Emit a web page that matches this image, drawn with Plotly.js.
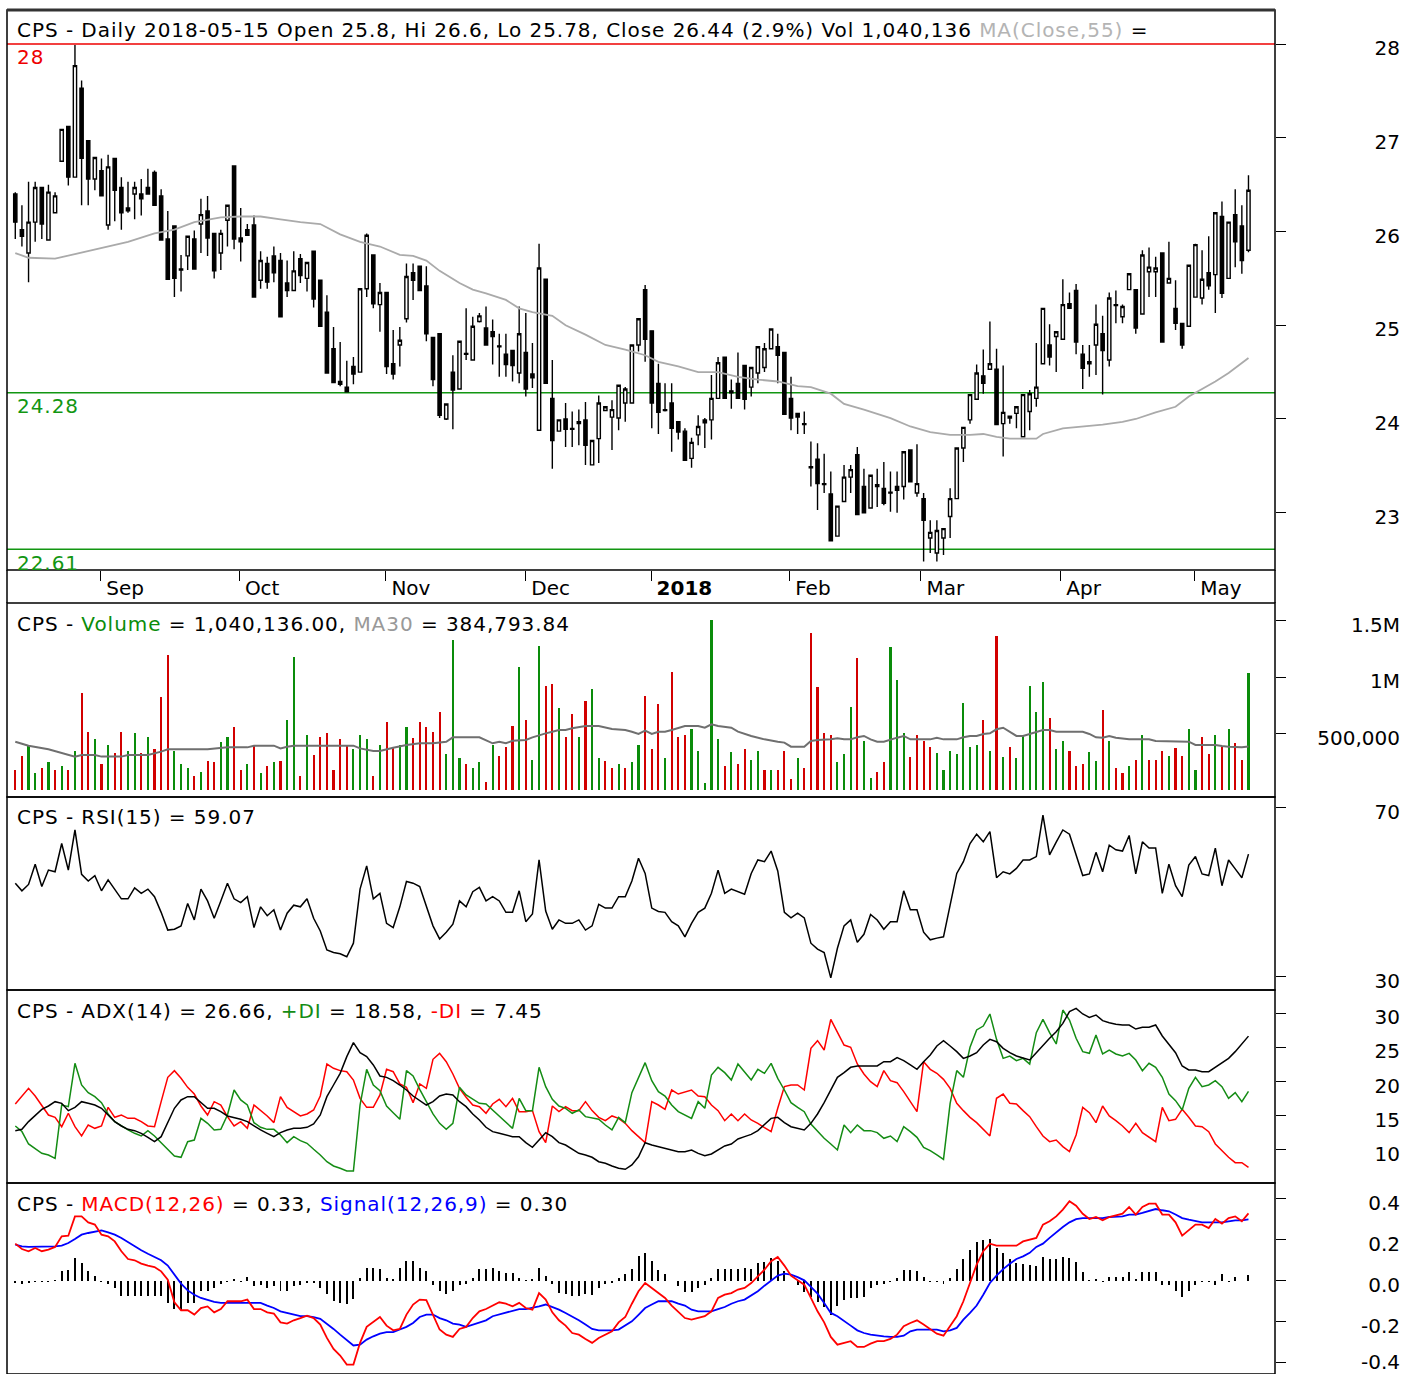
<!DOCTYPE html>
<html><head><meta charset="utf-8">
<script src="https://cdn.plot.ly/plotly-3.0.1.min.js"></script>
<style>html,body{margin:0;padding:0;background:#fff;}#chart{width:1414px;height:1374px;}
.annotation-text{letter-spacing:0.95px;}
.ytick text{letter-spacing:0.7px;}
</style>
</head><body><div id="chart"></div>
<script>
// ---------- DATA ----------
const monthTickPos = [12.9, 33.8, 55.9, 77.0, 95.9, 116.8, 136.6, 157.7, 177.9];
const monthLabels = ['Sep', 'Oct', 'Nov', 'Dec', '<b>2018</b>', 'Feb', 'Mar', 'Apr', 'May'];

const openP = [26.40,26.02,25.77,26.10,26.47,25.91,26.20,26.75,27.12,26.58,
27.53,26.97,26.56,26.65,26.07,26.78,26.47,26.25,26.40,26.40,
26.47,26.63,26.38,25.92,26.06,25.60,25.74,25.92,26.08,26.22,
25.98,25.77,26.12,26.70,25.93,26.02,26.07,25.48,25.66,25.74,
25.69,25.45,25.37,25.71,25.50,25.79,25.48,25.14,24.75,24.40,
24.34,24.56,24.50,25.39,25.75,25.22,25.35,24.59,24.79,25.07,
25.56,25.63,25.42,24.87,24.91,24.00,24.50,24.32,24.70,24.63,
25.04,24.97,24.93,24.78,24.69,24.73,24.49,24.71,24.48,23.88,
25.49,24.22,23.87,24.00,23.90,23.97,23.99,23.51,23.79,24.09,
24.02,24.01,24.17,24.17,24.79,25.38,24.94,24.38,24.10,24.17,
23.97,23.87,23.58,23.83,23.99,23.99,24.22,24.66,24.30,24.38,
24.57,24.34,24.49,24.55,24.75,24.77,24.71,24.22,24.06,23.95,
23.49,23.57,23.31,23.20,22.75,23.12,23.38,23.62,23.28,23.05,
23.30,23.26,23.21,23.28,23.28,23.67,23.21,23.15,22.73,22.57,
22.73,22.96,23.15,23.69,23.99,24.21,24.46,24.53,24.53,23.95,
24.03,24.06,23.81,24.08,24.22,24.59,24.79,24.88,24.85,25.23,
25.37,24.69,24.61,24.79,24.91,24.63,25.22,25.09,25.38,25.38,
25.12,25.57,25.57,25.77,25.45,25.18,25.02,24.99,25.30,25.29,
25.56,25.54,26.16,25.50,26.18,26.06,25.80];
const highP = [26.42,26.28,26.53,26.53,26.47,26.50,26.42,27.09,27.12,27.99,
27.61,26.97,26.79,26.78,26.82,26.78,26.58,26.53,26.53,26.56,
26.67,26.65,26.45,26.22,26.06,25.75,25.95,26.01,26.35,26.38,
25.98,26.02,26.28,26.70,26.25,26.08,26.17,25.79,25.73,25.84,
25.77,25.69,25.79,25.76,25.67,25.79,25.48,25.32,24.98,24.82,
24.62,24.66,25.39,25.98,25.75,25.45,25.35,24.95,24.98,25.66,
25.66,25.63,25.63,24.87,24.91,24.16,24.68,24.83,25.18,25.09,
25.13,25.20,25.06,24.91,24.91,24.73,25.20,25.13,24.81,25.87,
25.49,24.63,23.99,24.17,24.08,24.10,24.18,23.77,24.25,24.13,
24.20,24.36,24.34,24.79,25.07,25.43,24.94,24.59,24.38,24.38,
23.97,23.90,23.80,24.04,24.01,24.47,24.66,24.66,24.42,24.71,
24.57,24.55,24.77,24.81,24.96,24.91,24.71,24.45,24.06,24.08,
23.76,23.74,23.63,23.44,23.07,23.51,23.51,23.70,23.47,23.40,
23.47,23.54,23.44,23.44,23.65,23.67,23.73,23.21,22.92,22.92,
22.83,23.26,23.69,23.91,24.26,24.58,24.74,25.04,24.75,24.57,
24.03,24.13,24.26,24.31,24.81,25.18,25.01,24.93,25.49,25.35,
25.44,24.79,24.79,25.22,25.10,25.35,25.37,25.22,25.55,25.38,
25.80,25.83,25.73,25.77,25.89,25.48,25.02,25.64,25.87,25.80,
25.95,26.20,26.32,26.10,26.45,26.28,26.60];
const lowP = [25.92,25.84,25.46,25.89,25.92,25.91,26.20,26.75,26.49,26.58,
26.28,26.28,26.44,26.38,26.02,26.11,26.02,26.20,26.13,26.17,
26.40,26.28,25.91,25.49,25.30,25.36,25.59,25.60,25.77,25.74,
25.50,25.59,25.84,25.81,25.68,25.96,25.30,25.39,25.39,25.46,
25.09,25.30,25.37,25.45,25.36,25.19,24.99,24.49,24.39,24.35,
24.29,24.37,24.50,25.30,25.18,24.93,24.48,24.42,24.56,25.03,
25.27,25.37,24.83,24.35,24.01,23.99,23.89,24.32,24.63,24.63,
25.03,24.79,24.58,24.45,24.45,24.40,24.38,24.24,24.33,23.88,
24.38,23.47,23.87,23.70,23.70,23.72,23.51,23.51,23.53,24.09,
23.67,23.88,23.97,24.17,24.72,24.61,23.90,23.84,24.08,23.65,
23.78,23.56,23.48,23.72,23.69,23.78,24.22,24.22,24.11,24.22,
24.10,24.24,24.38,24.50,24.75,24.38,24.05,23.88,23.84,23.84,
23.28,23.03,23.21,22.70,22.75,23.12,23.21,22.98,23.00,23.05,
23.06,23.08,23.01,23.00,23.14,23.33,23.17,22.48,22.57,22.48,
22.55,22.73,23.15,23.54,23.95,24.21,24.27,24.53,23.94,23.60,
23.95,23.90,23.81,23.88,24.13,24.59,24.57,24.50,24.85,25.18,
24.69,24.32,24.45,24.47,24.26,24.56,25.02,25.02,25.38,24.91,
25.12,25.30,25.30,24.82,25.45,24.95,24.75,24.99,25.30,25.22,
25.38,25.13,25.29,25.50,25.62,25.55,25.78];
const closeP = [26.10,25.95,26.10,26.47,26.08,26.42,26.38,27.09,26.58,27.77,
26.78,26.56,26.79,26.38,26.69,26.44,26.20,26.22,26.47,26.35,
26.40,26.28,25.91,25.49,25.50,25.59,25.95,25.60,26.18,25.93,
25.58,25.98,26.28,25.92,25.89,25.96,25.30,25.69,25.46,25.56,
25.09,25.37,25.58,25.53,25.67,25.28,24.99,24.49,24.39,24.37,
24.29,24.48,25.39,25.96,25.23,25.35,24.56,24.48,24.84,25.52,
25.48,25.37,24.91,24.42,24.04,24.16,24.31,24.83,24.69,24.99,
25.10,24.79,24.88,24.77,24.58,24.57,24.91,24.32,24.44,25.61,
24.38,23.77,23.99,23.89,23.89,23.95,23.72,23.77,24.17,24.13,
24.10,24.36,24.32,24.79,25.07,24.85,24.17,24.07,24.09,23.90,
23.86,23.56,23.75,23.92,23.96,24.22,24.60,24.22,24.28,24.22,
24.21,24.55,24.77,24.75,24.96,24.68,24.05,24.01,24.02,23.94,
23.48,23.31,23.30,22.70,23.07,23.38,23.46,22.98,23.00,23.40,
23.28,23.10,23.22,23.24,23.65,23.33,23.31,22.92,22.79,22.81,
22.83,23.15,23.69,23.91,24.26,24.49,24.38,24.59,23.94,24.07,
24.01,24.13,24.26,24.27,24.34,25.18,24.66,24.93,25.22,25.18,
24.82,24.54,24.59,25.01,24.73,25.29,25.21,25.20,25.55,24.97,
25.75,25.62,25.61,24.82,25.50,25.02,24.79,25.64,25.86,25.49,
25.42,26.20,25.34,26.10,25.89,25.69,26.44];

const ma55X = [0,2,6,9,13,17,21,24,27,31,34,37,40,43,46,49,52,55,58,60,62,64,67,69,71,74,76,78,81,83,86,89,92,95,97,100,103,106,109,112,115,118,120,123,125,128,132,135,138,141,144,146,148,150,154,155,158,161,164,167,169,172,175,177,179,181,183,186];
const ma55Y = [25.77,25.72,25.71,25.76,25.83,25.89,25.98,26.02,26.10,26.15,26.16,26.16,26.13,26.10,26.08,25.97,25.89,25.84,25.75,25.74,25.69,25.58,25.45,25.38,25.34,25.27,25.18,25.14,25.10,25.00,24.90,24.79,24.74,24.68,24.61,24.56,24.50,24.50,24.45,24.42,24.40,24.35,24.34,24.27,24.16,24.10,24.01,23.92,23.86,23.83,23.83,23.84,23.81,23.79,23.79,23.84,23.90,23.92,23.94,23.97,24.00,24.07,24.13,24.24,24.32,24.40,24.49,24.65];

const volume = [177000,301000,399000,148000,198000,245000,177000,216000,177000,346000,
857000,517000,452000,230000,399000,331000,517000,349000,502000,331000,
473000,363000,821000,1197000,349000,230000,192000,127000,157000,260000,
245000,429000,467000,556000,177000,230000,399000,148000,213000,245000,
260000,621000,1176000,127000,488000,310000,467000,502000,177000,449000,
399000,363000,488000,449000,127000,399000,606000,369000,399000,556000,
458000,606000,556000,517000,689000,319000,1330000,281000,230000,192000,
245000,74000,399000,301000,384000,570000,1093000,621000,266000,1279000,
922000,940000,724000,473000,671000,473000,789000,893000,281000,260000,
192000,230000,198000,245000,400000,836000,363000,762000,281000,1049000,
473000,488000,538000,349000,59000,1507000,449000,216000,334000,230000,
363000,266000,349000,177000,177000,177000,349000,95000,281000,192000,
1389000,910000,502000,488000,245000,316000,739000,1167000,434000,109000,
157000,245000,1265000,975000,502000,296000,488000,434000,384000,331000,
177000,349000,316000,774000,384000,399000,621000,349000,1368000,296000,
384000,281000,482000,925000,689000,960000,641000,363000,434000,349000,
216000,230000,334000,260000,709000,434000,192000,148000,216000,266000,
488000,266000,266000,349000,301000,369000,301000,538000,177000,473000,
316000,488000,384000,538000,414000,266000,1040136];

const volMa30X = [0,2,5,8,9,10,12,13,16,17,20,22,23,29,32,35,36,39,40,41,42,51,52,54,55,57,59,61,63,65,66,70,71,72,73,74,75,77,78,79,80,81,82,83,84,86,88,90,92,93,94,95,96,97,98,99,100,101,103,104,105,106,108,109,111,113,115,116,117,119,120,121,123,124,125,126,127,128,129,130,131,132,133,134,135,138,139,140,142,143,144,145,146,147,148,149,150,151,152,153,154,155,156,157,161,162,163,164,165,166,168,171,172,177,178,181,182,183,185,186];
const volMa30Y = [428000,393000,361000,311000,296000,311000,311000,296000,296000,311000,311000,340000,361000,361000,378000,378000,393000,393000,369000,384000,393000,393000,369000,346000,346000,375000,399000,414000,414000,428000,467000,467000,443000,414000,428000,414000,437000,443000,467000,488000,502000,517000,532000,532000,547000,567000,567000,541000,532000,517000,497000,526000,497000,517000,517000,532000,547000,567000,567000,552000,582000,567000,552000,517000,479000,449000,428000,420000,384000,384000,434000,443000,449000,458000,449000,449000,467000,479000,449000,428000,428000,449000,464000,479000,449000,449000,464000,449000,449000,467000,479000,479000,497000,502000,538000,552000,517000,479000,479000,497000,517000,532000,532000,517000,517000,497000,467000,464000,479000,464000,449000,449000,434000,428000,399000,399000,390000,384000,380000,384794];

const rsi15 = [52.2,50.4,51.9,56.7,51.4,55.3,54.9,61.6,55.3,64.8,
54.3,52.7,54.0,50.4,53.0,50.6,48.5,48.5,51.1,49.8,
50.8,49.0,45.3,41.1,41.3,42.1,47.4,43.5,50.8,48.0,
43.9,48.0,52.2,48.5,47.6,49.0,41.7,46.6,44.5,45.9,
41.1,45.1,47.0,46.6,48.5,43.9,40.9,36.4,35.8,35.5,
34.8,38.0,50.8,56.3,48.5,49.8,42.7,41.7,46.6,52.6,
52.2,51.4,47.0,42.1,39.0,40.6,42.5,48.0,46.6,50.2,
51.2,48.0,49.0,48.0,45.3,45.3,50.4,43.1,44.9,57.7,
45.6,41.3,43.5,42.7,42.7,43.5,41.1,42.1,47.2,46.3,
46.3,49.0,49.0,52.7,58.1,54.5,46.3,45.5,45.3,43.1,
42.1,39.5,42.7,45.3,46.3,49.8,55.3,49.8,50.8,50.2,
49.6,54.5,57.7,57.3,59.8,55.1,45.3,44.0,45.1,44.0,
38.0,36.6,35.8,29.8,36.8,42.1,43.5,38.2,40.1,44.8,
43.5,41.3,43.1,43.1,50.4,45.9,45.9,40.6,38.8,39.2,
39.5,47.0,54.5,57.3,61.6,63.8,62.0,64.4,53.5,54.9,
54.4,55.7,57.7,57.7,58.5,68.3,58.9,61.9,64.8,63.8,
58.9,54.0,54.4,59.5,54.9,61.2,60.1,59.8,63.5,54.4,
62.0,60.5,60.5,49.8,56.7,51.6,49.0,56.5,58.5,54.4,
54.0,60.5,51.6,57.7,55.6,53.5,59.07];

const adx14 = [12.83,13.02,14.15,14.98,15.95,16.44,17.07,16.83,15.76,16.24,
17.07,16.83,16.58,16.10,15.12,14.15,13.51,13.02,12.83,12.44,
11.85,11.22,11.95,14.15,16.10,17.32,17.80,17.80,16.93,16.10,
16.10,15.61,14.98,14.78,14.49,14.15,13.51,12.93,12.44,11.95,
12.54,12.93,13.17,13.17,13.32,13.80,15.12,17.80,19.51,21.22,
23.66,25.70,24.24,23.66,22.44,20.83,20.63,20.14,19.51,18.78,
17.90,17.22,16.58,17.07,17.90,18.19,18.05,17.07,16.34,15.27,
14.39,13.32,12.68,12.44,12.19,11.95,11.95,11.07,10.39,11.46,
12.54,11.95,11.07,10.73,10.10,9.51,9.27,8.93,8.29,8.05,
7.66,7.32,7.17,7.81,9.00,11.07,10.73,10.49,10.24,10.00,
9.76,9.76,10.00,9.51,9.17,9.42,10.00,10.59,10.88,11.61,
11.95,12.29,12.83,13.66,14.63,14.78,14.00,13.41,13.17,12.93,
13.90,15.27,16.93,18.78,20.63,21.32,22.10,22.29,22.29,22.29,
22.29,22.92,22.92,23.51,23.07,22.44,21.80,22.92,23.90,25.22,
26.00,25.22,24.39,23.41,23.75,24.24,25.36,26.19,25.85,24.88,
24.24,23.75,23.41,23.17,24.24,25.36,26.34,27.31,28.53,30.24,
30.73,29.90,29.41,29.75,28.92,28.63,28.39,28.29,28.29,27.70,
27.95,27.95,28.29,26.68,25.51,24.24,22.29,21.71,21.71,21.46,
21.46,22.10,22.78,23.41,24.39,25.51,26.66];

const plusDI = [13.51,12.70,10.88,10.24,9.51,9.27,8.78,16.58,16.34,22.68,
19.51,18.39,17.80,16.93,15.27,14.15,13.51,12.93,12.44,12.05,
12.83,12.05,11.07,10.10,9.12,8.93,11.22,11.46,14.63,13.90,
12.93,13.02,15.12,18.78,17.32,16.58,14.00,13.32,13.02,13.02,
12.19,11.07,11.95,11.37,10.98,10.10,9.27,8.29,7.66,7.32,
6.93,6.93,16.58,21.80,19.51,18.68,16.44,15.46,14.49,21.61,
20.83,18.88,17.07,15.27,13.90,13.02,13.90,19.17,18.05,17.41,
16.83,16.73,15.85,14.98,14.00,13.17,17.56,15.76,15.76,22.10,
19.27,17.41,16.44,16.10,15.37,15.85,14.88,14.63,14.49,13.66,
12.93,14.78,14.00,18.39,20.63,22.78,20.14,18.54,17.90,16.58,
15.61,15.12,14.63,17.07,16.10,20.97,22.10,21.32,20.24,22.58,
21.46,20.24,21.80,21.22,22.68,20.49,18.78,16.93,16.24,15.61,
13.80,12.68,11.71,10.88,10.00,13.66,12.54,13.66,12.83,12.83,
12.54,11.71,12.05,11.22,13.41,12.68,11.85,10.39,9.90,9.27,
8.63,16.83,21.61,20.63,25.02,27.56,28.14,29.90,26.19,23.41,
23.75,23.07,23.41,22.58,27.17,29.12,27.17,25.51,30.48,29.02,
26.34,24.39,24.14,26.83,24.05,24.63,24.05,23.75,24.14,23.17,
21.61,22.68,22.10,20.63,18.19,17.22,15.85,19.02,20.63,19.27,
19.51,20.14,19.27,17.56,18.39,17.07,18.58];

const minusDI = [16.73,17.90,19.02,17.90,16.58,15.12,14.78,13.41,15.37,13.41,
12.05,13.66,13.17,13.51,16.24,14.78,15.12,14.63,14.63,14.15,
13.51,13.41,17.07,20.63,21.61,20.49,19.17,18.19,16.44,15.12,
17.07,16.58,14.88,13.51,14.15,13.17,16.58,15.76,14.98,14.00,
17.80,16.24,15.61,14.98,15.27,15.85,17.90,22.58,21.95,21.61,
21.46,20.24,17.56,16.24,16.24,18.05,21.80,21.46,19.66,19.17,
16.93,19.66,19.02,23.27,24.14,22.92,21.12,19.02,17.71,16.58,
16.34,15.37,16.73,17.41,16.34,17.56,15.61,15.61,15.76,12.68,
11.07,16.44,15.61,16.34,15.76,15.76,17.07,15.76,14.78,14.29,
14.98,14.63,13.90,12.83,11.95,11.07,17.07,16.58,15.95,18.78,
18.19,18.54,18.78,17.90,17.80,16.58,15.76,14.29,15.27,14.29,
15.27,14.39,13.90,13.27,12.68,16.10,19.27,19.51,19.51,18.78,
24.88,26.00,24.63,29.12,27.17,25.36,25.02,22.58,21.12,20.00,
19.27,21.61,20.14,19.85,18.54,17.07,15.61,22.92,21.80,21.22,
20.34,19.02,16.83,15.76,14.78,14.00,13.02,12.05,17.56,18.19,
16.83,16.73,15.76,14.88,13.41,12.05,11.22,11.46,10.49,9.76,
12.19,16.24,15.46,14.00,16.44,14.98,14.29,13.51,12.54,13.90,
12.54,11.85,11.22,16.24,14.29,14.49,15.95,14.78,13.51,13.41,
12.68,10.88,9.90,8.93,8.15,8.15,7.45];

const macdLine = [0.182,0.156,0.145,0.161,0.145,0.153,0.166,0.218,0.221,0.315,
0.315,0.286,0.275,0.226,0.218,0.193,0.145,0.107,0.101,0.085,
0.075,0.068,0.047,0.006,-0.104,-0.143,-0.143,-0.164,-0.132,-0.124,
-0.153,-0.137,-0.099,-0.099,-0.099,-0.091,-0.137,-0.137,-0.153,-0.159,
-0.202,-0.208,-0.192,-0.181,-0.169,-0.181,-0.213,-0.278,-0.332,-0.364,
-0.408,-0.408,-0.302,-0.224,-0.202,-0.176,-0.218,-0.241,-0.234,-0.164,
-0.115,-0.091,-0.094,-0.164,-0.237,-0.262,-0.273,-0.234,-0.224,-0.181,
-0.148,-0.137,-0.120,-0.104,-0.111,-0.124,-0.107,-0.132,-0.140,-0.059,
-0.091,-0.153,-0.192,-0.218,-0.254,-0.262,-0.283,-0.302,-0.278,-0.262,
-0.246,-0.202,-0.176,-0.111,-0.050,-0.010,-0.034,-0.059,-0.083,-0.120,
-0.153,-0.181,-0.189,-0.181,-0.172,-0.148,-0.083,-0.067,-0.059,-0.042,
-0.034,-0.010,0.023,0.055,0.096,0.117,0.075,0.026,0.003,-0.018,
-0.083,-0.148,-0.202,-0.273,-0.311,-0.302,-0.294,-0.322,-0.322,-0.306,
-0.294,-0.294,-0.283,-0.262,-0.221,-0.205,-0.192,-0.213,-0.237,-0.257,
-0.267,-0.221,-0.172,-0.099,-0.007,0.080,0.145,0.182,0.172,0.172,
0.172,0.172,0.193,0.202,0.210,0.275,0.291,0.315,0.348,0.389,
0.367,0.328,0.302,0.312,0.296,0.312,0.319,0.328,0.361,0.324,
0.361,0.377,0.377,0.324,0.324,0.286,0.221,0.247,0.275,0.275,
0.258,0.302,0.280,0.307,0.315,0.291,0.33];

const signalLine = [0.177,0.169,0.166,0.166,0.166,0.166,0.169,0.172,0.185,0.205,
0.226,0.234,0.242,0.247,0.237,0.226,0.210,0.189,0.169,0.150,
0.133,0.117,0.101,0.075,0.031,-0.013,-0.046,-0.067,-0.083,-0.094,
-0.102,-0.107,-0.107,-0.107,-0.104,-0.104,-0.107,-0.107,-0.120,-0.132,
-0.148,-0.156,-0.164,-0.172,-0.172,-0.176,-0.185,-0.208,-0.234,-0.262,
-0.289,-0.315,-0.311,-0.286,-0.270,-0.257,-0.250,-0.250,-0.237,-0.224,
-0.205,-0.176,-0.164,-0.164,-0.181,-0.192,-0.208,-0.213,-0.224,-0.213,
-0.205,-0.192,-0.172,-0.164,-0.156,-0.148,-0.137,-0.137,-0.132,-0.124,
-0.115,-0.127,-0.140,-0.156,-0.172,-0.192,-0.213,-0.234,-0.241,-0.241,
-0.241,-0.237,-0.218,-0.197,-0.165,-0.132,-0.115,-0.099,-0.099,-0.099,
-0.111,-0.120,-0.140,-0.148,-0.148,-0.148,-0.137,-0.127,-0.111,-0.099,
-0.091,-0.072,-0.050,-0.023,0.003,0.026,0.036,0.031,0.019,0.003,
-0.029,-0.062,-0.107,-0.156,-0.172,-0.197,-0.218,-0.241,-0.254,-0.262,
-0.267,-0.270,-0.273,-0.273,-0.267,-0.246,-0.237,-0.237,-0.237,-0.237,
-0.246,-0.241,-0.229,-0.189,-0.156,-0.120,-0.067,-0.010,0.026,0.058,
0.084,0.107,0.120,0.137,0.166,0.182,0.210,0.237,0.263,0.286,
0.302,0.307,0.307,0.307,0.307,0.312,0.315,0.315,0.324,0.324,
0.332,0.340,0.351,0.345,0.340,0.324,0.307,0.299,0.291,0.286,
0.286,0.286,0.286,0.291,0.296,0.296,0.30];

const macdHist = [-0.010,-0.016,-0.010,-0.007,-0.007,-0.003,0.003,0.049,0.052,0.114,
0.089,0.049,0.024,-0.007,-0.016,-0.036,-0.073,-0.073,-0.073,-0.073,
-0.073,-0.073,-0.073,-0.106,-0.138,-0.141,-0.106,-0.106,-0.049,-0.049,
-0.033,-0.016,-0.005,0.008,-0.005,0.020,-0.024,-0.020,-0.036,-0.024,
-0.049,-0.049,-0.024,-0.020,-0.008,-0.008,-0.033,-0.065,-0.098,-0.106,
-0.114,-0.089,0.016,0.062,0.062,0.057,0.013,0.010,0.062,0.098,
0.098,0.065,0.049,-0.020,-0.049,-0.065,-0.049,-0.020,-0.013,0.016,
0.057,0.057,0.062,0.049,0.041,0.041,0.016,0.003,0.008,0.065,
0.024,-0.016,-0.057,-0.065,-0.073,-0.073,-0.065,-0.068,-0.033,-0.016,
-0.008,0.013,0.033,0.057,0.122,0.138,0.098,0.054,0.033,0.000,
-0.023,-0.052,-0.052,-0.036,-0.020,0.013,0.059,0.059,0.059,0.059,
0.065,0.059,0.086,0.094,0.111,0.098,0.049,0.002,-0.020,-0.052,
-0.076,-0.101,-0.125,-0.166,-0.120,-0.093,-0.085,-0.081,-0.076,-0.036,
-0.020,-0.016,-0.003,0.013,0.054,0.054,0.049,0.021,-0.003,-0.003,
-0.016,0.013,0.059,0.107,0.151,0.192,0.200,0.205,0.163,0.135,
0.107,0.086,0.081,0.078,0.075,0.119,0.107,0.107,0.119,0.114,
0.091,0.042,0.005,0.010,-0.003,0.021,0.021,0.021,0.042,0.010,
0.042,0.042,0.042,-0.020,-0.020,-0.049,-0.076,-0.049,-0.020,-0.003,
-0.007,-0.020,0.033,-0.003,0.021,0.000,0.030];

const priceLevels = [28, 24.28, 22.61];
const priceTicks = [23, 24, 25, 26, 27, 28];
const volTicks = [500000, 1000000, 1500000];
const volTickText = ['500,000', '1M', '1.5M'];
const rsiTicks = [30, 70];
const adxTicks = [10, 15, 20, 25, 30];
const macdTicks = [-0.4, -0.2, 0, 0.2, 0.4];
const macdTickText = ['-0.4', '-0.2', '0.0', '0.2', '0.4'];

// ---------- LAYOUT HELPERS ----------
const W = 1414, H = 1374, ML = 7, MT = 10;
const PW = W - ML, PH = H - MT;
const py = y => (H - y) / PH;       // pixel row -> paper y
const pxx = x => (x - ML) / PW;     // pixel col -> paper x
const xEnd = pxx(1275);
const labelPos = pxx(1400);
const FONT = 'DejaVu Sans, Verdana, sans-serif';
const GREEN = 'rgb(10,140,10)', RED = 'rgb(210,0,0)';

const idx = closeP.map((_, i) => i);
const volColors = closeP.map((c, i) => (i === 0 ? c >= openP[0] : c > closeP[i - 1]) ? GREEN : RED);

const dom = {
  price: [py(570), 1],
  vol: [py(797), py(603)],
  rsi: [py(990), py(797)],
  adx: [py(1183), py(990)],
  macd: [0, py(1183)]
};
const ranges = {
  price: [22.389, 28.363],
  vol: [-62060, 1657800],
  rsi: [26.92, 72.60],
  adx: [5.17, 33.41],
  macd: [-0.454, 0.478]
};

const traces = [
  { type: 'candlestick', x: idx, open: openP, high: highP, low: lowP, close: closeP,
    xaxis: 'x', yaxis: 'y', whiskerwidth: 0,
    increasing: { line: { color: '#000', width: 1.4 }, fillcolor: '#fff' },
    decreasing: { line: { color: '#000', width: 1.4 }, fillcolor: '#000' },
    hoverinfo: 'skip', showlegend: false },
  { type: 'scatter', mode: 'lines', x: ma55X, y: ma55Y, xaxis: 'x', yaxis: 'y',
    line: { color: '#aaaaaa', width: 1.8 }, hoverinfo: 'skip', showlegend: false },
  { type: 'bar', x: idx, y: volume, width: 0.32, xaxis: 'x', yaxis: 'y2',
    marker: { color: volColors, line: { width: 0 } }, hoverinfo: 'skip', showlegend: false },
  { type: 'scatter', mode: 'lines', x: volMa30X, y: volMa30Y, xaxis: 'x', yaxis: 'y2',
    line: { color: '#6f6f6f', width: 2 }, hoverinfo: 'skip', showlegend: false },
  { type: 'scatter', mode: 'lines', x: idx, y: rsi15, xaxis: 'x', yaxis: 'y3',
    line: { color: '#000', width: 1.5 }, hoverinfo: 'skip', showlegend: false },
  { type: 'scatter', mode: 'lines', x: idx, y: minusDI, xaxis: 'x', yaxis: 'y4',
    line: { color: '#ff0000', width: 1.5 }, hoverinfo: 'skip', showlegend: false },
  { type: 'scatter', mode: 'lines', x: idx, y: plusDI, xaxis: 'x', yaxis: 'y4',
    line: { color: 'rgb(20,140,20)', width: 1.5 }, hoverinfo: 'skip', showlegend: false },
  { type: 'scatter', mode: 'lines', x: idx, y: adx14, xaxis: 'x', yaxis: 'y4',
    line: { color: '#000', width: 1.5 }, hoverinfo: 'skip', showlegend: false },
  { type: 'bar', x: idx, y: macdHist, width: 0.3, xaxis: 'x', yaxis: 'y5',
    marker: { color: '#000', line: { width: 0 } }, hoverinfo: 'skip', showlegend: false },
  { type: 'scatter', mode: 'lines', x: idx, y: signalLine, xaxis: 'x', yaxis: 'y5',
    line: { color: '#0000ff', width: 1.8 }, hoverinfo: 'skip', showlegend: false },
  { type: 'scatter', mode: 'lines', x: idx, y: macdLine, xaxis: 'x', yaxis: 'y5',
    line: { color: '#ff0000', width: 1.8 }, hoverinfo: 'skip', showlegend: false }
];
// invisible anchor traces so that the right-hand label axes get drawn
[['y6', priceTicks], ['y7', volTicks], ['y8', rsiTicks], ['y9', adxTicks], ['y10', macdTicks], ['y11', macdTicks]].forEach(([ax, tv]) => {
  traces.push({ type: 'scatter', mode: 'markers', x: [0], y: [tv[0]], xaxis: 'x', yaxis: ax,
    marker: { opacity: 0, size: 1 }, hoverinfo: 'skip', showlegend: false });
});

const tickFont = { family: FONT, size: 20, color: '#000' };
function mainY(d, r, tv) {
  return { domain: d, range: r, side: 'right', anchor: 'x', tickvals: tv, ticks: 'outside', ticklen: 10,
    tickcolor: '#000', tickwidth: 1, showticklabels: false, showgrid: false, zeroline: false, showline: false, fixedrange: true };
}
function labelY(over, r, tv, tt, shift) {
  const a = { overlaying: over, range: r, side: 'left', anchor: 'free', position: labelPos, tickvals: tv,
    ticks: '', showticklabels: true, tickfont: tickFont, ticklabelshift: shift === undefined ? 4 : shift,
    ticklabeloverflow: 'allow', showgrid: false, zeroline: false, showline: false, fixedrange: true };
  if (tt) a.ticktext = tt;
  return a;
}

const shapes = [];
['price', 'vol', 'rsi', 'adx', 'macd'].forEach(k => {
  shapes.push({ type: 'rect', xref: 'paper', yref: 'paper', x0: 0, x1: xEnd, y0: dom[k][0], y1: dom[k][1],
    line: { color: '#000', width: 1.5 }, layer: 'above' });
});
shapes.push({ type: 'line', xref: 'paper', yref: 'paper', x0: 0, x1: xEnd, y0: 1, y1: 1, line: { color: '#333', width: 3 } });
shapes.push({ type: 'line', xref: 'paper', yref: 'paper', x0: 0, x1: 0, y0: py(603), y1: py(570), line: { color: '#000', width: 1.5 } });
shapes.push({ type: 'line', xref: 'paper', yref: 'paper', x0: xEnd, x1: xEnd, y0: py(603), y1: py(570), line: { color: '#000', width: 1.5 } });
const levelColors = ['#ee0000', '#129612', '#129612'];
priceLevels.forEach((v, i) => {
  shapes.push({ type: 'line', xref: 'paper', yref: 'y', x0: 0, x1: xEnd, y0: v, y1: v,
    line: { color: levelColors[i], width: 1.6 }, layer: 'below' });
});

function ann(text, xpx, ypx, color) {
  return { text: text, xref: 'paper', yref: 'paper', x: pxx(xpx), y: py(ypx), xanchor: 'left', yanchor: 'middle',
    align: 'left', showarrow: false, font: { family: FONT, size: 20, color: color || '#000' } };
}
const annotations = [
  ann('CPS - Daily 2018-05-15 Open 25.8, Hi 26.6, Lo 25.78, Close 26.44 (2.9%) Vol 1,040,136 <span style="color:#b4b4b4">MA(Close,55)</span> =', 15, 30),
  ann('CPS - <span style="color:' + GREEN + '">Volume</span> = 1,040,136.00, <span style="color:#999999">MA30</span> = 384,793.84', 15, 624),
  ann('CPS - RSI(15) = 59.07', 15, 817),
  ann('CPS - ADX(14) = 26.66, <span style="color:rgb(20,140,20)">+DI</span> = 18.58, <span style="color:#ff0000">-DI</span> = 7.45', 15, 1011),
  ann('CPS - <span style="color:#ff0000">MACD(12,26)</span> = 0.33, <span style="color:#0000ff">Signal(12,26,9)</span> = 0.30', 15, 1204),
  ann(String(priceLevels[0]), 15, 57, '#ee0000'),
  ann(String(priceLevels[1]), 15, 406, '#129612'),
  ann(String(priceLevels[2]), 15, 563, '#129612')
];

const layout = {
  width: W, height: H, margin: { l: ML, r: 0, t: MT, b: 0, pad: 0 },
  paper_bgcolor: '#fff', plot_bgcolor: '#fff', showlegend: false, bargap: 0,
  font: { family: FONT, size: 20, color: '#000' },
  xaxis: { domain: [0, xEnd], range: [-1.25, 190.0], anchor: 'y', tickvals: monthTickPos, ticktext: monthLabels,
    ticks: 'outside', ticklen: 10, tickcolor: '#000', tickwidth: 1, ticklabelposition: 'outside right',
    ticklabelshift: 5, tickfont: tickFont, showgrid: false, zeroline: false, showline: false, fixedrange: true,
    rangeslider: { visible: false } },
  yaxis: mainY(dom.price, ranges.price, priceTicks),
  yaxis2: mainY(dom.vol, ranges.vol, volTicks),
  yaxis3: mainY(dom.rsi, ranges.rsi, rsiTicks),
  yaxis4: mainY(dom.adx, ranges.adx, adxTicks),
  yaxis5: mainY(dom.macd, ranges.macd, macdTicks),
  yaxis6: labelY('y', ranges.price, priceTicks),
  yaxis7: labelY('y2', ranges.vol, volTicks, volTickText),
  yaxis8: labelY('y3', ranges.rsi, rsiTicks),
  yaxis9: labelY('y4', ranges.adx, adxTicks),
  // bottom MACD label kept just inside the picture edge, the others sit like the reference
  yaxis10: labelY('y5', ranges.macd, macdTicks.slice(1), macdTickText.slice(1)),
  yaxis11: labelY('y5', ranges.macd, macdTicks.slice(0, 1), macdTickText.slice(0, 1), -1),
  shapes: shapes,
  annotations: annotations
};

Plotly.newPlot('chart', traces, layout, { staticPlot: true, displayModeBar: false });
</script></body></html>
